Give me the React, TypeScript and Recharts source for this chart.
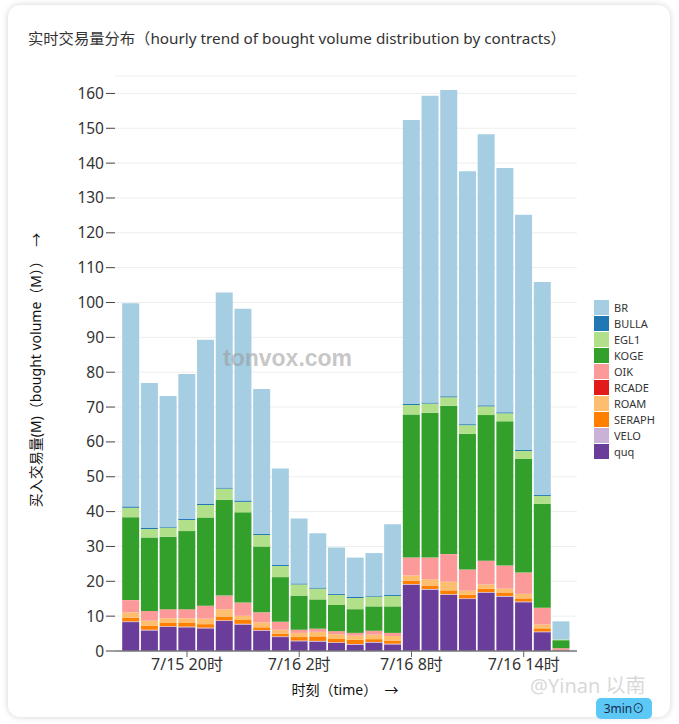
import React from "react";
import { BarChart, Bar, XAxis, YAxis, CartesianGrid } from "recharts";

const HOURS = [
  "7/15 17时", "7/15 18时", "7/15 19时", "7/15 20时", "7/15 21时", "7/15 22时",
  "7/15 23时", "7/16 0时", "7/16 1时", "7/16 2时", "7/16 3时", "7/16 4时",
  "7/16 5时", "7/16 6时", "7/16 7时", "7/16 8时", "7/16 9时", "7/16 10时",
  "7/16 11时", "7/16 12时", "7/16 13时", "7/16 14时", "7/16 15时", "7/16 16时",
];

const QUQ = [8.3, 5.9, 6.9, 6.8, 6.5, 8.6, 7.6, 5.8, 4.0, 2.8, 2.7, 2.3, 1.8, 2.4, 1.9, 19.0, 17.6, 16.1, 14.9, 16.7, 15.6, 14.0, 5.4, 0.2];
const VELO = [0.2, 0.2, 0.2, 0.2, 0.2, 0.2, 0.2, 0.2, 0.2, 0.2, 0.2, 0.2, 0.2, 0.2, 0.2, 0.2, 0.2, 0.2, 0.2, 0.2, 0.2, 0.2, 0.2, 0];
const SERAPH = [1.1, 1.2, 1.1, 1.2, 1.0, 1.1, 1.1, 0.8, 0.8, 1.0, 1.3, 1.1, 1.2, 0.8, 0.9, 1.0, 1.0, 1.1, 1.0, 1.0, 1.0, 0.9, 0.9, 0];
const ROAM = [1.5, 1.4, 1.2, 1.2, 1.6, 2.1, 1.2, 1.4, 1.1, 1.2, 1.3, 1.2, 1.2, 1.3, 1.3, 1.5, 1.8, 2.5, 1.2, 1.2, 1.1, 1.3, 1.1, 0.1];
const RCADE = [0, 0, 0, 0, 0, 0, 0, 0, 0, 0, 0, 0, 0, 0, 0, 0, 0, 0, 0, 0, 0, 0, 0, 0];
const OIK = [3.5, 2.8, 2.6, 2.6, 3.7, 3.9, 3.8, 2.9, 2.3, 0.9, 0.9, 0.9, 0.8, 1.1, 0.9, 5.1, 6.2, 7.9, 6.1, 6.8, 6.6, 6.1, 4.8, 0.5];
const KOGE = [23.8, 21.1, 20.8, 22.4, 25.3, 27.5, 25.9, 18.9, 12.8, 9.8, 8.4, 7.5, 6.8, 7.0, 7.6, 41.1, 41.6, 42.6, 38.9, 41.8, 41.4, 32.6, 29.8, 2.3];
const EGL1 = [2.7, 2.4, 2.6, 3.2, 3.6, 3.2, 3.0, 3.3, 3.2, 3.2, 3.1, 2.9, 3.2, 2.8, 3.0, 2.7, 2.6, 2.4, 2.5, 2.5, 2.3, 2.3, 2.3, 0.2];
const BULLA = [0.4, 0.3, 0.3, 0.3, 0.3, 0.3, 0.4, 0.3, 0.3, 0.3, 0.3, 0.3, 0.3, 0.3, 0.3, 0.3, 0.3, 0.3, 0.3, 0.3, 0.3, 0.3, 0.3, 0];
const BR = [58.3, 41.6, 37.5, 41.6, 47.1, 56.0, 55.0, 41.6, 27.7, 18.6, 15.6, 13.3, 11.3, 12.2, 20.3, 81.5, 88.0, 87.9, 72.6, 77.8, 70.1, 67.5, 61.1, 5.2];

const X_TICKS = ["7/15 20时", "7/16 2时", "7/16 8时", "7/16 14时"];
const Y_TICKS = [0, 10, 20, 30, 40, 50, 60, 70, 80, 90, 100, 110, 120, 130, 140, 150, 160];

// bottom of the stack first
const SERIES = [
  { key: "quq", values: QUQ, color: "#6a3d9a" },
  { key: "VELO", values: VELO, color: "#cab2d6" },
  { key: "SERAPH", values: SERAPH, color: "#ff7f00" },
  { key: "ROAM", values: ROAM, color: "#fdbf6f" },
  { key: "RCADE", values: RCADE, color: "#e31a1c" },
  { key: "OIK", values: OIK, color: "#fb9a99" },
  { key: "KOGE", values: KOGE, color: "#33a02c" },
  { key: "EGL1", values: EGL1, color: "#b2df8a" },
  { key: "BULLA", values: BULLA, color: "#1f78b4" },
  { key: "BR", values: BR, color: "#a6cee3" },
];

const data = HOURS.map((hour, i) => {
  const row: Record<string, string | number> = { hour };
  SERIES.forEach((s) => (row[s.key] = s.values[i]));
  return row;
});

const FONT = "'Segoe UI', 'Noto Sans', 'Noto Sans CJK SC', sans-serif";

function LegendBox() {
  const items = [...SERIES].reverse();
  return (
    <div style={{ position: "absolute", left: 594, top: 299, fontSize: 11, color: "#333" }}>
      {items.map((s) => (
        <div key={s.key} style={{ display: "flex", alignItems: "center", height: 16 }}>
          <span style={{ width: 15, height: 15, background: s.color, display: "inline-block", marginRight: 5 }} />
          <span>{s.key}</span>
        </div>
      ))}
    </div>
  );
}

export default function App() {
  return (
    <div style={{ position: "absolute", left: 0, top: 0, width: 679, height: 724, background: "#fff", fontFamily: FONT }}>
      <div
        style={{
          position: "absolute", left: 8, top: 5, width: 662, height: 712,
          borderRadius: 12, background: "#fff", boxShadow: "0 0 6px rgba(0,0,0,0.18)",
        }}
      />
      <div style={{ position: "absolute", left: 28, top: 26, fontSize: 15.3, color: "#333", whiteSpace: "nowrap" }}>
        实时交易量分布（hourly trend of bought volume distribution by contracts）
      </div>
      <div style={{ position: "absolute", left: 0, top: 0 }}>
        <BarChart
          width={679}
          height={724}
          data={data}
          margin={{ top: 76, right: 102, bottom: 0, left: 0 }}
          barCategoryGap={0.7}
        >
          <CartesianGrid vertical={false} stroke="#eeeeee" />
          <XAxis
            dataKey="hour"
            ticks={X_TICKS}
            interval={0}
            height={73}
            padding={{ left: 6.5, right: 6.5 }}
            tick={{ fontSize: 16, fill: "#333" }}
            tickSize={6}
            tickLine={{ stroke: "#666" }}
            axisLine={{ stroke: "#777", strokeWidth: 1.5 }}
          />
          <YAxis
            width={115}
            domain={[0, 165]}
            ticks={Y_TICKS}
            interval={0}
            axisLine={false}
            tickSize={9}
            tickLine={{ stroke: "#444" }}
            tick={{ fontSize: 15.5, fill: "#333" }}
          />
          {SERIES.map((s) => (
            <Bar key={s.key} dataKey={s.key} stackId="a" fill={s.color} isAnimationActive={false} />
          ))}
        </BarChart>
      </div>
      <LegendBox />
      <div
        style={{
          position: "absolute", left: 223, top: 345, fontSize: 23, fontWeight: 700,
          fontFamily: "Arial, 'Liberation Sans', sans-serif", color: "rgba(150,150,150,0.55)", pointerEvents: "none",
        }}
      >
        tonvox.com
      </div>
      <div
        style={{
          position: "absolute", left: 35, top: 370, transform: "translate(-50%, -50%) rotate(-90deg)",
          fontSize: 14, color: "#111", whiteSpace: "nowrap",
        }}
      >
        买入交易量(M)（bought volume（M））&nbsp;&nbsp;→
      </div>
      <div
        style={{
          position: "absolute", left: 345, top: 689, transform: "translate(-50%, -50%)",
          fontSize: 14, color: "#111", whiteSpace: "nowrap",
        }}
      >
        时刻（time）&nbsp;&nbsp;→
      </div>
      <div
        style={{
          position: "absolute", left: 596, top: 698, width: 56, height: 21, borderRadius: 5,
          background: "#5bc8f5", fontSize: 12, color: "#1a2a50", textAlign: "center", lineHeight: "22px",
        }}
      >
        3min⊙
      </div>
      <div
        style={{
          position: "absolute", left: 530, top: 670, fontSize: 20, color: "rgba(200,200,200,0.7)",
          whiteSpace: "nowrap", pointerEvents: "none",
        }}
      >
        @Yinan 以南
      </div>
    </div>
  );
}
